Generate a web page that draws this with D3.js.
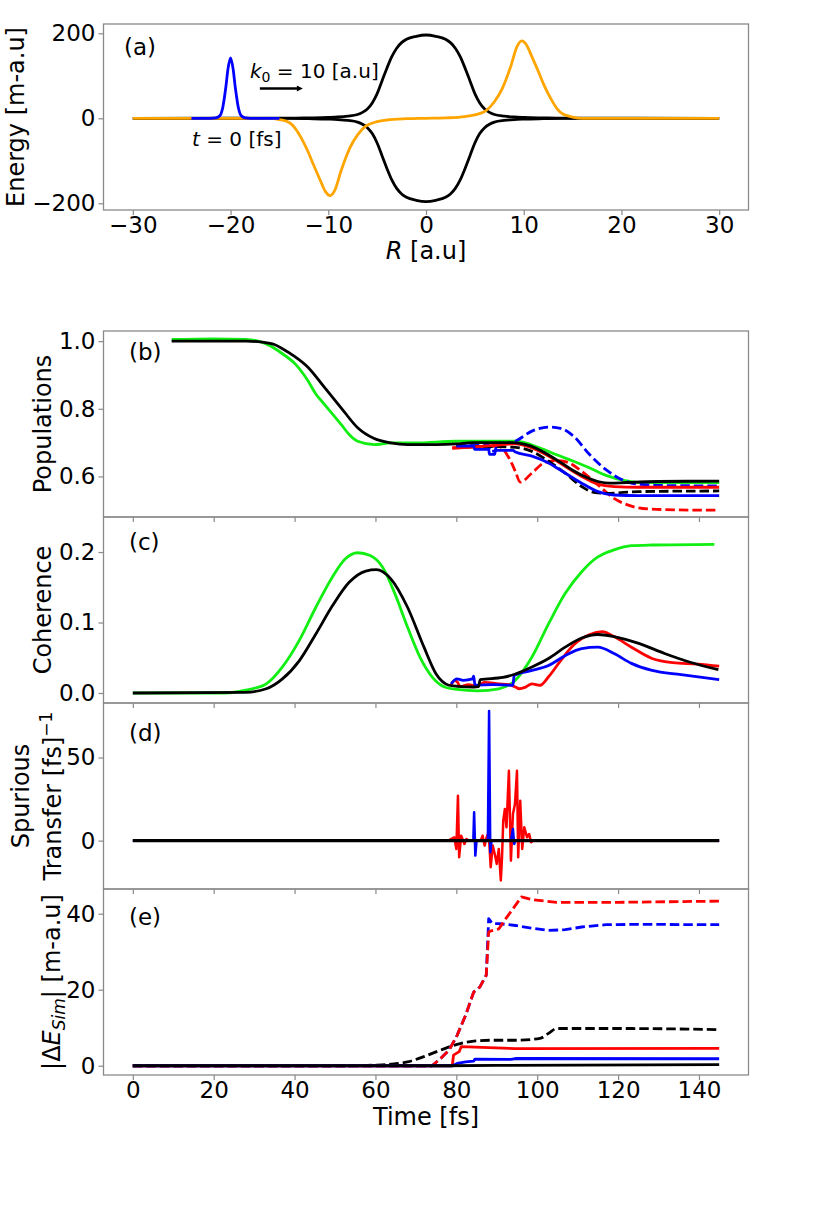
<!DOCTYPE html>
<html><head><meta charset="utf-8">
<script src="https://cdn.jsdelivr.net/npm/d3@7"></script>
<style>
body{margin:0;background:#fff}
text{font-family:"DejaVu Sans",sans-serif;fill:#000}
</style>
</head><body>
<svg id="chart" width="830" height="1208"></svg>
<script>
// ---------- Panel (a): energy surfaces & wavepacket ----------
const aTicksX = [-30,-20,-10,0,10,20,30];
const aTicksY = [-200,0,200];
const aBlackUpper = [[-30,0],[-14,0.3],[-12,1],[-10,2],[-9,3],[-8,5],[-7,9],[-6.5,14],[-6,22],[-5.5,36],[-5,58],[-4.5,88],[-4,118],[-3.5,145],[-3,165],[-2.5,178],[-2,186],[-1,193],[0,196],[1,193],[2,186],[2.5,178],[3,165],[3.5,145],[4,118],[4.5,88],[5,58],[5.5,36],[6,22],[6.5,14],[7,9],[8,5],[9,3],[10,2],[12,1],[14,0.3],[30,0]];
const aBlackLower = [[-30,0],[-14,-0.3],[-12,-1],[-10,-2],[-9,-3],[-8,-5],[-7,-9],[-6.5,-14],[-6,-22],[-5.5,-36],[-5,-58],[-4.5,-88],[-4,-118],[-3.5,-145],[-3,-165],[-2.5,-178],[-2,-186],[-1,-193],[0,-196],[1,-193],[2,-186],[2.5,-178],[3,-165],[3.5,-145],[4,-118],[4.5,-88],[5,-58],[5.5,-36],[6,-22],[6.5,-14],[7,-9],[8,-5],[9,-3],[10,-2],[12,-1],[14,-0.3],[30,0]];
const aOrange = [[-30,0],[-16,0],[-15,-3],[-14,-10],[-13.4,-23],[-12.8,-45],[-12.1,-77],[-11.5,-110],[-10.8,-147],[-10.3,-172],[-9.8,-182],[-9.3,-168],[-8.7,-124],[-8.2,-92],[-7.8,-70],[-7,-39],[-6.2,-19],[-5,-8],[-4,-4],[-2,-1],[0,0],[2,1],[4,4],[5,8],[6.2,19],[7,39],[7.8,70],[8.2,92],[8.7,124],[9.3,168],[9.8,182],[10.3,172],[10.8,147],[11.5,110],[12.1,77],[12.8,45],[13.4,23],[14,10],[15,3],[16,0],[30,0]];
const aBlue = [[-24,0],[-22,0],[-21.5,1],[-21.1,6],[-20.8,25],[-20.5,70],[-20.25,118],[-20,142],[-19.75,118],[-19.5,70],[-19.2,25],[-18.9,6],[-18.5,1],[-18,0],[-15,0]];
const aArrow = [[-17,70],[-12.6,70]];

// ---------- Time panels ----------
const tTicks = [0,20,40,60,80,100,120,140];
const bTicks = [0.6,0.8,1.0];
const cTicks = [0.0,0.1,0.2];
const dTicks = [0,50];
const eTicks = [0,20,40];

// (b) populations
const bGreen = [[9.6,1.005],[20,1.007],[28,1.005],[31,1.0],[33,0.992],[37.1,0.962],[40.2,0.932],[43.3,0.883],[45.3,0.843],[47.4,0.813],[49.4,0.784],[51.5,0.754],[53.5,0.724],[55.6,0.704],[59.7,0.694],[63.8,0.699],[70,0.699],[80,0.704],[94.6,0.704],[100.7,0.684],[104.8,0.664],[109,0.645],[113,0.625],[117,0.603],[122,0.587],[125.3,0.582],[145,0.582]];
const bBlack = [[9.6,1.0],[28,1.0],[32,0.997],[35,0.99],[37.1,0.977],[40,0.955],[43.3,0.923],[47.4,0.863],[51.5,0.803],[55.6,0.744],[59.7,0.712],[63.8,0.699],[67.9,0.694],[75,0.694],[80,0.696],[84,0.70],[94,0.70],[97,0.695],[100,0.682],[103,0.662],[106,0.64],[109,0.617],[112,0.598],[115,0.585],[118,0.58],[122,0.582],[130,0.585],[145,0.586]];
const bRed = [[79,0.684],[84,0.687],[88.4,0.691],[94.6,0.696],[98.7,0.684],[102.8,0.66],[106.9,0.63],[111,0.60],[115,0.577],[119,0.57],[125,0.568],[145,0.568]];
const bBlue = [[80,0.69],[84.3,0.69],[84.5,0.68],[88,0.68],[88.2,0.665],[89.5,0.665],[89.7,0.677],[94,0.677],[94.6,0.672],[98.7,0.66],[102.8,0.64],[106.9,0.61],[111,0.58],[115,0.555],[119,0.545],[125,0.543],[145,0.543]];
const bBlackDash = [[80,0.69],[94.6,0.686],[98.7,0.674],[102.8,0.645],[106.9,0.61],[111,0.57],[114,0.553],[117,0.55],[125,0.555],[145,0.557]];
const bBlueDash = [[80,0.689],[88,0.692],[88.3,0.675],[89.5,0.675],[90,0.69],[94.6,0.704],[98.7,0.734],[102.8,0.746],[105.8,0.742],[109,0.719],[113,0.664],[117,0.62],[121,0.59],[125,0.577],[132,0.573],[145,0.572]];
const bRedDash = [[79,0.684],[90.5,0.689],[93,0.655],[94.6,0.615],[95.8,0.583],[98.7,0.61],[101.7,0.64],[104.8,0.647],[107.9,0.64],[111,0.615],[115,0.575],[119,0.535],[123.3,0.512],[127.4,0.504],[135,0.501],[145,0.50]];

// (c) coherence
const cGreen = [[0,0],[22.8,0],[27.9,0.004],[33,0.013],[37,0.037],[41.2,0.075],[45.3,0.122],[49.4,0.165],[52.5,0.19],[55.6,0.199],[58.7,0.195],[61.7,0.179],[64.8,0.141],[67.9,0.094],[71,0.051],[74,0.023],[77.1,0.0085],[80.2,0.005],[85.3,0.003],[90.5,0.006],[94.6,0.018],[98.7,0.051],[102.8,0.098],[106.9,0.141],[111,0.172],[115,0.193],[119,0.203],[123.3,0.209],[128.4,0.21],[143.8,0.211]];
const cBlack = [[0,0],[27.9,0.001],[33,0.006],[37,0.020],[41.2,0.046],[45.3,0.084],[49.4,0.124],[53.5,0.157],[57.6,0.173],[60.2,0.175],[63.8,0.162],[67.9,0.122],[72,0.065],[75,0.027],[78.2,0.011],[80.2,0.0095],[84.3,0.0085],[85.5,0.009],[85.9,0.019],[91.5,0.022],[94.6,0.027],[98.7,0.037],[102.8,0.049],[106.9,0.065],[111,0.078],[115,0.083],[119,0.08],[125.3,0.07],[131.5,0.056],[137.6,0.044],[144.8,0.033]];
const cRed = [[78.7,0.011],[79.6,0.018],[80.2,0.016],[81,0.009],[83,0.012],[85,0.01],[87,0.015],[90.5,0.013],[93,0.012],[94.6,0.0085],[95.6,0.006],[97,0.008],[98.7,0.013],[100.7,0.011],[102.8,0.023],[105.8,0.046],[109,0.068],[113,0.083],[116.1,0.087],[119,0.08],[123.3,0.065],[128.4,0.049],[133.5,0.043],[139.7,0.041],[145,0.038]];
const cBlue = [[78.7,0.013],[80.2,0.02],[81.7,0.018],[84,0.02],[84.3,0.024],[84.6,0.011],[89,0.012],[94,0.011],[94.3,0.025],[98.7,0.032],[102.8,0.039],[106.9,0.053],[111,0.063],[115,0.065],[119,0.056],[123.3,0.042],[128.4,0.032],[135.6,0.026],[145,0.019]];

// (d) spurious transfer
const dBlack = [[0,0],[145,0]];
const dRed = [[0,0],[78,0],[79.5,2],[80,-5],[80.4,27],[80.7,-10],[81.2,3],[82,-2],[82.5,1],[83,0],[86,0],[86.5,3],[87,-3],[87.5,2],[88,5],[88.5,-16],[89,-3],[89.5,-8],[90,-14],[90.5,-5],[91,-24],[91.3,-10],[91.6,12],[92,19],[92.4,8],[93,42],[93.5,-12],[94,16],[94.5,22],[95,42],[95.3,-10],[95.8,24],[96.3,-5],[96.8,8],[97.5,2],[98,4],[98.5,-1],[99,0],[145,0]];
const dBlue = [[0,0],[84.2,0],[84.4,17],[84.7,-9],[85,0],[87.8,0],[88.1,78],[88.4,-7],[88.7,0],[93.5,0],[94,7],[94.3,-2],[94.6,0],[145,0]];

// (e) energy error
const eBlack = [[0,0],[78,0],[90,0.1],[145,0.3]];
const eBlue = [[0,0],[79,0],[80.2,0.6],[82.3,1.0],[84.3,1.2],[84.6,1.75],[93.5,1.66],[94.6,1.9],[145,1.84]];
const eRed = [[0,0],[79,0],[79.3,2.8],[80.7,3.7],[81.2,5.0],[94.6,4.5],[145,4.55]];
const eBlackDash = [[0,0],[53.5,0],[59.7,0.15],[63.8,0.4],[67.9,1.0],[72,2.4],[76.1,4.1],[80.2,5.6],[84.3,6.5],[88.4,6.7],[94.6,6.7],[100.7,7.2],[102.8,8.5],[104.8,9.8],[120,9.8],[145,9.5]];
const eRedDash = [[0,0],[74,0],[76.1,1.9],[78.2,4.1],[80.2,8.0],[82.3,13.3],[84.3,19.4],[85.8,20.7],[87.4,23.8],[88,35.2],[88.4,35.4],[90.5,36],[92.5,39.1],[94,41.3],[96.1,44.4],[98.7,43.7],[104.8,43],[120,43],[145,43.3]];
const eBlueDash = [[0,0],[74,0],[76.1,1.9],[78.2,4.1],[80.2,8.0],[82.3,13.3],[84.3,19.4],[85.8,20.7],[87.4,23.8],[88,38.7],[88.9,37.4],[90.5,37.4],[94.6,36.9],[98.7,36.2],[102.8,35.6],[106.9,35.8],[111,36.5],[117,37.1],[125,37.2],[145,37.1]];

// ---------- Drawing ----------
const svg = d3.select('#chart');
svg.append('rect').attr('width',830).attr('height',1208).attr('fill','#fff');

const L = 103.5, R = 748.5;
const FRAME = '#8a8a8a';
const TICKFONT = 23, LABELFONT = 24;
const C = {green:'#11ee11', black:'#000', red:'#ff0000', blue:'#0000ff', orange:'#ffa500'};
const DASH = '9.5,4';
const LW = 2.8;

const xR = d3.scaleLinear().domain([-33,33]).range([L,R]);
const xT = d3.scaleLinear().domain([-7.25,152.25]).range([L,R]);

function panel(top, bottom, xs, ydom, yticks, yfmt, xticks, showXLabels){
  const y = d3.scaleLinear().domain(ydom).range([bottom, top]);
  const g = svg.append('g');
  const clipId = 'clip' + Math.round(top);
  svg.append('clipPath').attr('id',clipId).append('rect')
    .attr('x',L).attr('y',top).attr('width',R-L).attr('height',bottom-top);
  const plot = g.append('g').attr('clip-path',`url(#${clipId})`);
  const ya = g.append('g').attr('transform',`translate(${L},0)`)
    .call(d3.axisLeft(y).tickValues(yticks).tickFormat(yfmt).tickSize(5).tickPadding(3));
  ya.select('.domain').remove();
  ya.selectAll('line').attr('stroke',FRAME).attr('stroke-width',1.2);
  ya.selectAll('text').attr('font-size',TICKFONT).attr('font-family','DejaVu Sans').attr('fill','#000');
  const xa = g.append('g').attr('transform',`translate(0,${bottom})`)
    .call(d3.axisBottom(xs).tickValues(xticks).tickSize(5).tickPadding(2)
      .tickFormat(showXLabels ? d3.format('') : ''));
  xa.select('.domain').remove();
  xa.selectAll('line').attr('stroke',FRAME).attr('stroke-width',1.2);
  xa.selectAll('text').attr('font-size',TICKFONT).attr('font-family','DejaVu Sans').attr('fill','#000');
  g.append('rect').attr('x',L).attr('y',top).attr('width',R-L).attr('height',bottom-top)
    .attr('fill','none').attr('stroke',FRAME).attr('stroke-width',1.3);
  return {y, plot, g};
}

function drawLine(p, xs, data, color, dashed, curve, width){
  const line = d3.line().x(d=>xs(d[0])).y(d=>p.y(d[1])).curve(curve || d3.curveMonotoneX);
  p.plot.append('path').datum(data).attr('d',line)
    .attr('fill','none').attr('stroke',color).attr('stroke-width',width||LW)
    .attr('stroke-dasharray',dashed?DASH:null)
    .attr('stroke-linejoin','round');
}

function label(x,y,txt,size){
  return svg.append('text').attr('x',x).attr('y',y).attr('font-size',size||TICKFONT).text(txt);
}

// Panel (a)
const pa = panel(24, 210, xR, [-215.8,221.9], aTicksY, d3.format(''), aTicksX, true);
drawLine(pa, xR, aBlackUpper, C.black);
drawLine(pa, xR, aBlackLower, C.black);
drawLine(pa, xR, aOrange, C.orange);
drawLine(pa, xR, aBlue, C.blue);
{
  const x0 = xR(aArrow[0][0]), x1 = xR(aArrow[1][0]), yy = pa.y(aArrow[0][1]);
  pa.plot.append('line').attr('x1',x0).attr('x2',x1-4).attr('y1',yy).attr('y2',yy)
    .attr('stroke','#000').attr('stroke-width',2.4);
  pa.plot.append('path').attr('d',`M${x1},${yy} L${x1-6},${yy-3} L${x1-6},${yy+3} Z`).attr('fill','#000');
}
label(124, 55, '(a)');
{
  const t = svg.append('text').attr('x',250).attr('y',78).attr('font-size',20);
  t.append('tspan').attr('font-style','italic').text('k');
  t.append('tspan').attr('font-size',14).attr('dy',4).text('0');
  t.append('tspan').attr('dy',-4).text(' = 10 [a.u]');
  const t2 = svg.append('text').attr('x',192).attr('y',146).attr('font-size',20);
  t2.append('tspan').attr('font-style','italic').text('t');
  t2.append('tspan').text(' = 0 [fs]');
}
{
  const t = svg.append('text').attr('x',(L+R)/2).attr('y',259).attr('font-size',LABELFONT).attr('text-anchor','middle');
  t.append('tspan').attr('font-style','italic').text('R');
  t.append('tspan').text(' [a.u]');
}

// Panel (b)
const pb = panel(331, 517, xT, [0.48,1.03], bTicks, d3.format('.1f'), tTicks, false);
drawLine(pb, xT, bGreen, C.green);
drawLine(pb, xT, bRedDash, C.red, true);
drawLine(pb, xT, bBlueDash, C.blue, true);
drawLine(pb, xT, bBlackDash, C.black, true);
drawLine(pb, xT, bRed, C.red);
drawLine(pb, xT, bBlue, C.blue);
drawLine(pb, xT, bBlack, C.black);
label(129, 360, '(b)');

// Panel (c)
const pc = panel(517, 703, xT, [-0.0142,0.2497], cTicks, d3.format('.1f'), tTicks, false);
drawLine(pc, xT, cGreen, C.green);
drawLine(pc, xT, cRed, C.red);
drawLine(pc, xT, cBlue, C.blue);
drawLine(pc, xT, cBlack, C.black);
label(129, 550, '(c)');

// Panel (d)
const pd = panel(703, 889, xT, [-29.1,82.8], dTicks, d3.format(''), tTicks, false);
drawLine(pd, xT, dRed, C.red, false, d3.curveLinear, 2.5);
drawLine(pd, xT, dBlue, C.blue, false, d3.curveLinear, 2.5);
drawLine(pd, xT, dBlack, C.black, false, d3.curveLinear, 3.3);
label(129, 741, '(d)');

// Panel (e)
const pe = panel(889, 1075, xT, [-2.44,46.5], eTicks, d3.format(''), tTicks, true);
drawLine(pe, xT, eBlackDash, C.black, true);
drawLine(pe, xT, eBlueDash, C.blue, true, d3.curveLinear);
drawLine(pe, xT, eRedDash, C.red, true, d3.curveLinear);
drawLine(pe, xT, eRed, C.red, false, d3.curveLinear);
drawLine(pe, xT, eBlue, C.blue, false, d3.curveLinear);
drawLine(pe, xT, eBlack, C.black, false, d3.curveLinear);
label(129, 925, '(e)');
svg.append('text').attr('x',(L+R)/2).attr('y',1125).attr('font-size',LABELFONT).attr('text-anchor','middle').text('Time [fs]');

// Y labels
function ylab(x, yc, build){
  const t = svg.append('text').attr('transform',`translate(${x},${yc}) rotate(-90)`)
    .attr('font-size',LABELFONT).attr('text-anchor','middle');
  build(t);
}
ylab(24, 117, t=>t.text('Energy [m-a.u]'));
ylab(51, 424, t=>t.text('Populations'));
ylab(51, 610, t=>t.text('Coherence'));
ylab(29, 796, t=>t.text('Spurious'));
ylab(61, 796, t=>{
  t.append('tspan').text('Transfer [fs]');
  t.append('tspan').attr('font-size',17).attr('dy',-9).text('−1');
});
ylab(60, 982, t=>{
  t.append('tspan').text('|Δ');
  t.append('tspan').attr('font-style','italic').text('E');
  t.append('tspan').attr('font-style','italic').attr('font-size',17).attr('dy',5).text('Sim');
  t.append('tspan').attr('dy',-5).text('| [m-a.u]');
});
</script>
</body></html>
